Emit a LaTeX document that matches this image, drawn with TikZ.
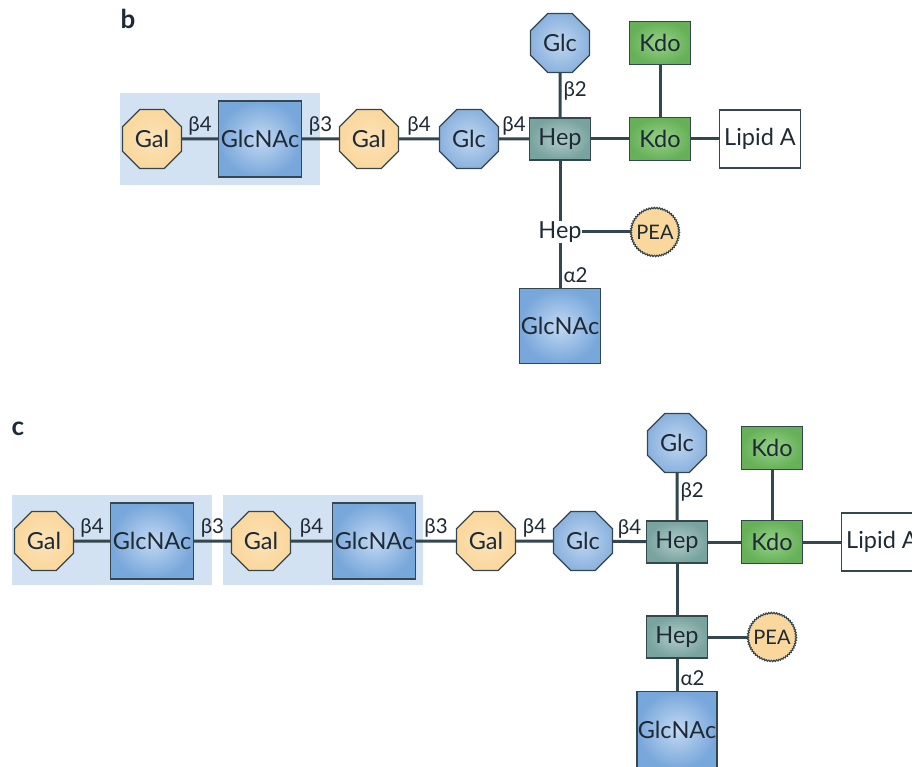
\documentclass[tikz,border=0pt]{standalone}
\usepackage{fontspec}
\setmainfont{Lato}
\usetikzlibrary{shapes.geometric,decorations.pathmorphing}
\definecolor{edgec}{HTML}{34464E}
\definecolor{txtc}{HTML}{1E2A35}
\definecolor{galc}{HTML}{FAD79C}
\definecolor{galin}{HTML}{FCE3B8}
\definecolor{glcin}{HTML}{C0D7F0}
\definecolor{glcout}{HTML}{8BB2DE}
\definecolor{gnin}{HTML}{C3D9F2}
\definecolor{gnout}{HTML}{78A7DB}
\definecolor{hepin}{HTML}{B2CCC9}
\definecolor{hepout}{HTML}{78A39E}
\definecolor{kdoin}{HTML}{98D08A}
\definecolor{kdoout}{HTML}{66B158}
\definecolor{hlc}{HTML}{D3E2F3}
\begin{document}
\begin{tikzpicture}[x=1pt,y=-1pt,
  base/.style={draw=edgec, line width=1.3pt, text=txtc, font=\fontsize{23.5}{26}\selectfont, inner sep=0pt},
  oct/.style={base, regular polygon, regular polygon sides=8, minimum size=64pt},
  galnode/.style={oct, inner color=galin, outer color=galc},
  glcnode/.style={oct, inner color=glcin, outer color=glcout},
  glcnacnode/.style={base, rectangle, minimum width=83pt, minimum height=76pt, inner color=gnin, outer color=gnout},
  hepnode/.style={base, rectangle, minimum width=61pt, minimum height=42pt, inner color=hepin, outer color=hepout},
  kdonode/.style={base, rectangle, minimum width=61pt, minimum height=43pt, inner color=kdoin, outer color=kdoout},
  lipnode/.style={base, rectangle, fill=white, minimum width=81pt, minimum height=58pt},
  heptext/.style={text=txtc, font=\fontsize{23.5}{26}\selectfont, inner sep=0pt},
  peanode/.style={circle, minimum size=48pt, inner sep=0pt, fill=galc, text=txtc, font=\fontsize{20}{22}\selectfont},
  peaedge/.style={draw=edgec, line width=1.1pt, decorate, decoration={zigzag, segment length=2.6pt, amplitude=0.7pt}},
  link/.style={draw=edgec, line width=3pt},
  lbl/.style={font=\fontsize{20.5}{22}\selectfont, text=txtc, inner sep=2pt},
  panel/.style={font=\fontsize{26}{28}\selectfont\bfseries, text=txtc, inner sep=0pt},
  hl/.style={fill=hlc}
]
\useasboundingbox (0,0) rectangle (912,767);
\clip (0,0) rectangle (912,767);

% ---------------- panel b ----------------
\node[panel] (lb) at (128,19) {b};
\fill[hl] (120,93) rectangle (320,185);

\node[galnode] (galB1) at (152,139) {Gal};
\node[glcnacnode] (gnB1) at (260,139) {GlcNAc};
\node[galnode] (galB2) at (369,139) {Gal};
\node[glcnode] (glcB1) at (469,139) {Glc};
\node[hepnode] (hepB1) at (560,139) {Hep};
\node[glcnode] (glcB2) at (560,43) {Glc};
\node[kdonode] (kdoB1) at (660,43) {Kdo};
\node[kdonode] (kdoB2) at (660,139) {Kdo};
\node[lipnode] (lipB) at (760,139) {Lipid A};
\node[heptext] (hepB2) at (560,232) {Hep};
\node[peanode] (peaB) at (655,232) {PEA};
\draw[peaedge] (peaB.center) circle[radius=24pt];
\node[glcnacnode, minimum width=81pt, minimum height=75pt] (gnB2) at (560,326) {GlcNAc};

\draw[link] (galB1) -- node[lbl, above] {β4} (gnB1);
\draw[link] (gnB1) -- node[lbl, above] {β3} (galB2);
\draw[link] (galB2) -- node[lbl, above] {β4} (glcB1);
\draw[link] (glcB1) -- node[lbl, above] {β4} (hepB1);
\draw[link] (glcB2) -- node[lbl, right, pos=0.4] {β2} (hepB1);
\draw[link] (hepB1) -- (kdoB2);
\draw[link] (kdoB1) -- (kdoB2);
\draw[link] (kdoB2) -- (lipB);
\draw[link] (hepB1) -- (hepB2);
\draw[link] (hepB2) -- (peaB);
\draw[link] (hepB2) -- node[lbl, right, pos=0.72] {α2} (gnB2);

% ---------------- panel c ----------------
\node[panel] (lc) at (18,429) {c};
\fill[hl] (12,495) rectangle (212,585);
\fill[hl] (223,495) rectangle (423,585);

\node[galnode] (galC1) at (44,541) {Gal};
\node[glcnacnode] (gnC1) at (152,541) {GlcNAc};
\node[galnode] (galC2) at (261,541) {Gal};
\node[glcnacnode] (gnC2) at (374,541) {GlcNAc};
\node[galnode] (galC3) at (486,541) {Gal};
\node[glcnode] (glcC1) at (583,541) {Glc};
\node[hepnode] (hepC1) at (677,542) {Hep};
\node[glcnode] (glcC2) at (677,443) {Glc};
\node[kdonode] (kdoC1) at (772,448) {Kdo};
\node[kdonode] (kdoC2) at (772,542) {Kdo};
\node[lipnode] (lipC) at (882,542) {Lipid A};
\node[hepnode] (hepC2) at (677,637) {Hep};
\node[peanode] (peaC) at (772,637) {PEA};
\draw[peaedge] (peaC.center) circle[radius=24pt];
\node[glcnacnode, minimum width=80pt, minimum height=77pt] (gnC3) at (677,730) {GlcNAc};

\draw[link] (galC1) -- node[lbl, above] {β4} (gnC1);
\draw[link] (gnC1) -- node[lbl, above] {β3} (galC2);
\draw[link] (galC2) -- node[lbl, above] {β4} (gnC2);
\draw[link] (gnC2) -- node[lbl, above] {β3} (galC3);
\draw[link] (galC3) -- node[lbl, above] {β4} (glcC1);
\draw[link] (glcC1) -- node[lbl, above] {β4} (hepC1);
\draw[link] (glcC2) -- node[lbl, right, pos=0.4] {β2} (hepC1);
\draw[link] (hepC1) -- (kdoC2);
\draw[link] (kdoC1) -- (kdoC2);
\draw[link] (kdoC2) -- (lipC);
\draw[link] (hepC1) -- (hepC2);
\draw[link] (hepC2) -- (peaC);
\draw[link] (hepC2) -- node[lbl, right, pos=0.6] {α2} (gnC3);
\end{tikzpicture}
\end{document}
